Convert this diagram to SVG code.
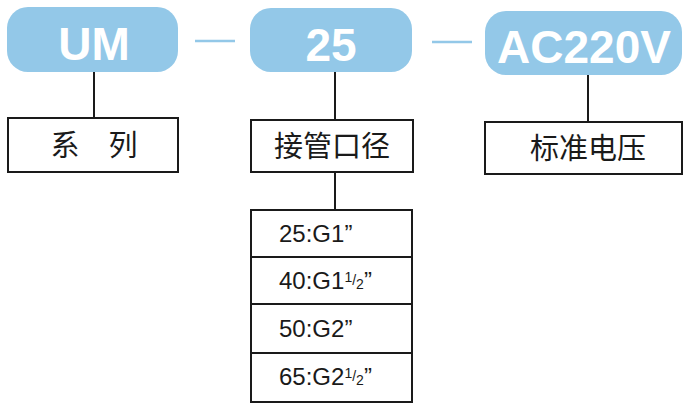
<svg xmlns="http://www.w3.org/2000/svg" width="683" height="403" viewBox="0 0 683 403">
<defs>
<style>
.pill{fill:#93c8e8;}
.ptxt{font-family:"Liberation Sans",Arial,sans-serif;font-weight:bold;font-size:46px;fill:#ffffff;text-anchor:middle;}
.box{fill:#ffffff;stroke:#1a1a1a;stroke-width:2;}
.ln{stroke:#1a1a1a;stroke-width:2;fill:none;}
.dash{stroke:#93c8e8;stroke-width:2.5;}
.cn{font-family:"Noto Sans CJK SC","Noto Sans",sans-serif;font-size:29px;fill:#1a1a1a;text-anchor:middle;}
.sz{font-family:"Liberation Sans",Arial,sans-serif;font-size:24px;fill:#1a1a1a;}
.fr{font-size:14px;}
</style>
</defs>
<g id="connectors">
<line class="dash" x1="195" y1="41" x2="235" y2="41"/>
<line class="dash" x1="432" y1="42" x2="472" y2="42"/>
<line class="ln" x1="94" y1="72" x2="94" y2="118"/>
<line class="ln" x1="335" y1="72" x2="335" y2="120"/>
<line class="ln" x1="335" y1="172" x2="335" y2="210"/>
<line class="ln" x1="588" y1="75" x2="588" y2="122"/>
</g>
<g id="node-UM">
<rect class="pill" x="7" y="7" width="171" height="65" rx="21"/>
<text class="ptxt" x="94" y="60">UM</text>
</g>
<g id="node-25">
<rect class="pill" x="250" y="8" width="162" height="64" rx="21"/>
<text class="ptxt" x="331" y="61">25</text>
</g>
<g id="node-AC220V">
<rect class="pill" x="485" y="11" width="197" height="64" rx="21"/>
<text class="ptxt" x="584" y="63">AC220V</text>
</g>
<g id="node-series">
<rect class="box" x="8" y="118" width="170" height="54"/>
<text class="cn" x="94" y="156">系　列</text>
</g>
<g id="node-diameter">
<rect class="box" x="251" y="120" width="162" height="52"/>
<text class="cn" x="332" y="157">接管口径</text>
</g>
<g id="node-voltage">
<rect class="box" x="485" y="122" width="197" height="52"/>
<text class="cn" x="588" y="159">标准电压</text>
</g>
<g id="node-sizes">
<rect class="box" x="251" y="210" width="161" height="192"/>
<line class="ln" x1="251" y1="257" x2="412" y2="257"/>
<line class="ln" x1="251" y1="304" x2="412" y2="304"/>
<line class="ln" x1="251" y1="353" x2="412" y2="353"/>
<text class="sz" x="279" y="242">25:G1”</text>
<text class="sz" x="279" y="289">40:G1<tspan class="fr" dy="-7">1</tspan><tspan class="fr" dy="3">/</tspan><tspan class="fr" dy="4">2</tspan><tspan dy="0">”</tspan></text>
<text class="sz" x="279" y="337">50:G2”</text>
<text class="sz" x="279" y="385">65:G2<tspan class="fr" dy="-7">1</tspan><tspan class="fr" dy="3">/</tspan><tspan class="fr" dy="4">2</tspan><tspan dy="0">”</tspan></text>
</g>
</svg>
